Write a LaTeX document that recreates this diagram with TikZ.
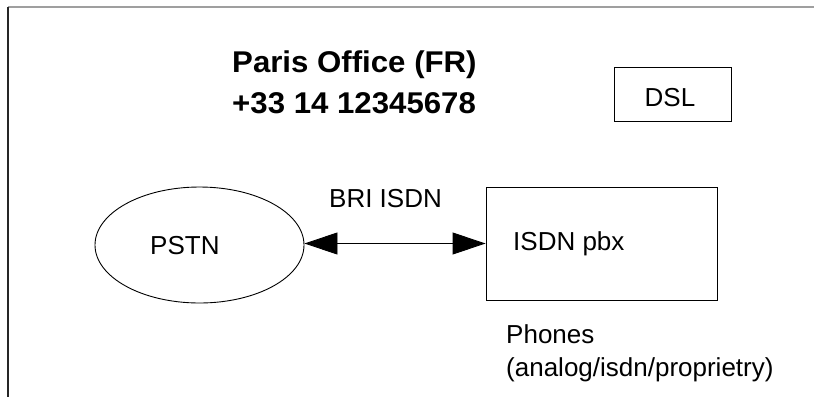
\documentclass[tikz,border=0pt]{standalone}
\usepackage{fontspec}
\setmainfont{Liberation Sans}
\usetikzlibrary{shapes.geometric,arrows.meta}
\tikzset{
  x=1pt, y=-1pt,
  frameline/.style={line width=1.2pt},
  shapebox/.style={draw, line width=0.9pt, rectangle, inner sep=0pt},
  cloudy/.style={draw, line width=0.9pt, ellipse, inner sep=0pt},
  lbl/.style={inner sep=0pt, anchor=base west, font=\fontsize{26}{30}\selectfont},
  titletext/.style={inner sep=0pt, anchor=base west, font=\fontsize{30}{36}\bfseries\selectfont},
  link/.style={line width=0.9pt, {Triangle[length=33pt,width=22pt]}-{Triangle[length=33pt,width=22pt]}}
}
\begin{document}
\begin{tikzpicture}
\useasboundingbox (0,0) rectangle (814,397);
% page frame (top and left edges)
\draw[frameline, gray!75] (8,7) -- (814,7);
\draw[frameline, black!85] (8,7) -- (8,397);

% title
\node[titletext] (t1) at (232,72) {\scalebox{1.04}[1]{Paris Office (FR)}};
\node[titletext] (t2) at (232,113) {\scalebox{1.04}[1]{+33 14 12345678}};

% DSL box
\node[shapebox, minimum width=117pt, minimum height=54pt] (dsl) at (672.5,94) {};
\node[lbl, anchor=base] (dsltxt) at (670,106) {DSL};

% PSTN cloud
\node[cloudy, minimum width=209pt, minimum height=116pt] (pstn) at (199.5,245) {};
\node[lbl] (pstntxt) at (150,254) {PSTN};

% ISDN pbx
\node[shapebox, minimum width=231pt, minimum height=113pt] (pbx) at (601.5,243.5) {};
\node[lbl] (pbxtxt) at (513,250) {ISDN pbx};

% BRI ISDN link
\draw[link] (pstn.east |- pbx.west) -- (pbx.west);
\node[lbl] (bri) at (329,207) {BRI ISDN};

% phones caption
\node[lbl] (ph1) at (506,343) {Phones};
\node[lbl] (ph2) at (506,376) {(analog/isdn/proprietry)};
\end{tikzpicture}
\end{document}
